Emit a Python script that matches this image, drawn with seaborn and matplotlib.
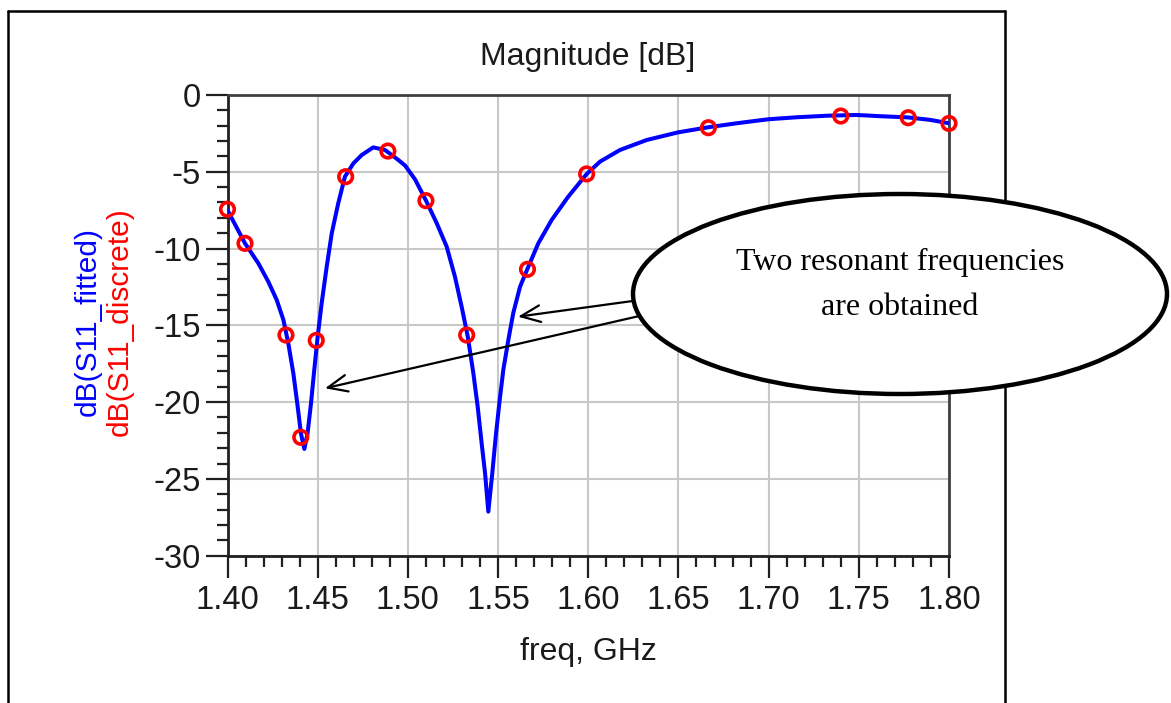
import numpy as np
import pandas as pd
import seaborn as sns
import matplotlib.pyplot as plt
from matplotlib.patches import Ellipse, FancyArrowPatch
from matplotlib.lines import Line2D
from matplotlib.ticker import MultipleLocator

# Fitted S11 magnitude (dB) vs frequency (GHz)
fit_freq = [1.4000, 1.4097, 1.4171, 1.4226, 1.4273, 1.4310, 1.4337, 1.4365,
            1.4389, 1.4407, 1.4426, 1.4444, 1.4463, 1.4481, 1.4500, 1.4522,
            1.4550, 1.4578, 1.4614, 1.4651, 1.4698, 1.4744, 1.4808, 1.4873,
            1.4947, 1.4985, 1.5040, 1.5099, 1.5160, 1.5215, 1.5261, 1.5298,
            1.5332, 1.5363, 1.5387, 1.5409, 1.5428, 1.5446, 1.5468, 1.5487,
            1.5507, 1.5529, 1.5557, 1.5584, 1.5622, 1.5664, 1.5723, 1.5797,
            1.5889, 1.5991, 1.6065, 1.6176, 1.6324, 1.6499, 1.6666, 1.6823,
            1.6998, 1.7156, 1.7322, 1.7488, 1.7617, 1.7774, 1.7895, 1.8000]
fit_db = [-7.50, -9.66, -10.96, -12.15, -13.35, -14.65, -16.17, -18.12,
          -20.29, -22.03, -23.05, -22.03, -20.07, -17.90, -15.73, -13.56,
          -11.18, -9.00, -7.05, -5.32, -4.45, -3.91, -3.41, -3.58,
          -4.23, -4.60, -5.50, -6.84, -8.35, -9.87, -11.83, -13.78,
          -15.73, -18.12, -20.29, -22.68, -24.63, -27.13, -24.63, -22.25,
          -20.07, -17.90, -15.95, -14.21, -12.48, -11.29, -9.66, -8.14,
          -6.62, -5.15, -4.34, -3.58, -2.93, -2.43, -2.10, -1.84,
          -1.58, -1.45, -1.35, -1.30, -1.38, -1.46, -1.62, -1.84]

# Discrete (simulated) samples
disc_freq = [1.4000, 1.4097, 1.4324, 1.4406, 1.4492, 1.4655, 1.4889, 1.5100,
             1.5326, 1.5663, 1.5991, 1.6666, 1.7400, 1.7774, 1.8000]
disc_db = [-7.44, -9.66, -15.63, -22.29, -15.98, -5.32, -3.65, -6.88,
           -15.63, -11.35, -5.14, -2.13, -1.37, -1.48, -1.85]

x_ticks = [1.40, 1.45, 1.50, 1.55, 1.60, 1.65, 1.70, 1.75, 1.80]
x_labels = ["1.40", "1.45", "1.50", "1.55", "1.60", "1.65", "1.70", "1.75", "1.80"]
y_ticks = [0, -5, -10, -15, -20, -25, -30]
y_labels = ["0", "-5", "-10", "-15", "-20", "-25", "-30"]

fit_df = pd.DataFrame({"freq": fit_freq, "dB": fit_db})
disc_df = pd.DataFrame({"freq": disc_freq, "dB": disc_db})

sns.set_theme(style="white")
plt.rcParams["font.family"] = ["Liberation Sans", "DejaVu Sans"]

W, H = 1171, 703


def fx(px):
    return px / W


def fy(py):
    return 1 - py / H


fig = plt.figure(figsize=(W / 100, H / 100), dpi=100)
fig.patch.set_facecolor("white")
ax = fig.add_axes([fx(227.5), fy(555.7), (949 - 227.5) / W, (555.7 - 95) / H])

sns.lineplot(data=fit_df, x="freq", y="dB", ax=ax, color="#0000FF",
             linewidth=2.9, sort=False, zorder=3)
sns.scatterplot(data=disc_df, x="freq", y="dB", ax=ax, marker="o", s=95,
                facecolor="none", edgecolor="#FF0000", linewidth=2.6,
                zorder=4, clip_on=False)

ax.set_xlim(1.40, 1.80)
ax.set_ylim(-30, 0)
ax.set_xticks(x_ticks)
ax.set_xticklabels(x_labels)
ax.set_yticks(y_ticks)
ax.set_yticklabels(y_labels)
ax.xaxis.set_minor_locator(MultipleLocator(0.01))
ax.yaxis.set_minor_locator(MultipleLocator(1))
ax.set_xlabel("")
ax.set_ylabel("")

ax.grid(True, which="major", color="#C8C8C8", linewidth=1.5)
ax.set_axisbelow(True)

ax.tick_params(axis="both", which="major", direction="out", length=16,
               width=1.6, color="#202020", labelsize=23.5, labelcolor="#1a1a1a")
ax.tick_params(axis="both", which="minor", direction="out", length=8,
               width=1.6, color="#202020")
ax.tick_params(axis="x", which="major", pad=5)
ax.tick_params(axis="y", which="major", pad=3)
ax.tick_params(axis="x", which="both", bottom=True)
ax.tick_params(axis="y", which="both", left=True)

for side in ["left", "bottom"]:
    ax.spines[side].set_color("#202020")
    ax.spines[side].set_linewidth(2.0)
for side in ["top", "right"]:
    ax.spines[side].set_color("#404040")
    ax.spines[side].set_linewidth(2.0)

# Title, axis names
fig.text(fx(588), fy(57), "Magnitude [dB]", ha="center", va="center",
         fontsize=23, color="#1a1a1a")
fig.text(fx(588), fy(652), "freq, GHz", ha="center", va="center",
         fontsize=23, color="#1a1a1a")
fig.text(fx(88), fy(322), "dB(S11_fitted)", ha="center", va="center",
         rotation=90, fontsize=21.5, color="#0000FF")
fig.text(fx(120), fy(322), "dB(S11_discrete)", ha="center", va="center",
         rotation=90, fontsize=21.5, color="#FF0000")

# Outer frame (open at the bottom)
frame_kw = dict(color="black", linewidth=1.8, transform=fig.transFigure, zorder=5)
fig.add_artist(Line2D([fx(8), fx(8)], [0, fy(11)], **frame_kw))
fig.add_artist(Line2D([fx(8), fx(1005)], [fy(11), fy(11)], **frame_kw))
fig.add_artist(Line2D([fx(1005), fx(1005)], [fy(11), 0], **frame_kw))

# Callout arrows pointing to the two resonances
arrow_kw = dict(transform=fig.transFigure, arrowstyle="->,head_length=0.7,head_width=0.3",
                mutation_scale=20, linewidth=1.6, color="black",
                shrinkA=0, shrinkB=0, zorder=9)
fig.add_artist(FancyArrowPatch((fx(640), fy(300)), (fx(518), fy(316.7)), **arrow_kw))
fig.add_artist(FancyArrowPatch((fx(648), fy(314)), (fx(325), fy(388.3)), **arrow_kw))

# Callout bubble
fig.add_artist(Ellipse((fx(900), fy(294)), width=534 / W, height=200 / H,
                       transform=fig.transFigure, facecolor="white",
                       edgecolor="black", linewidth=3.2, zorder=10))
fig.text(fx(900), fy(269.6), "Two resonant frequencies", ha="center",
         va="baseline", fontsize=23, family=["Liberation Serif", "DejaVu Serif"],
         color="black", zorder=11)
fig.text(fx(900), fy(315.4), "are obtained", ha="center", va="baseline",
         fontsize=23, family=["Liberation Serif", "DejaVu Serif"],
         color="black", zorder=11)

fig.savefig("out.png", dpi=100, facecolor="white")
